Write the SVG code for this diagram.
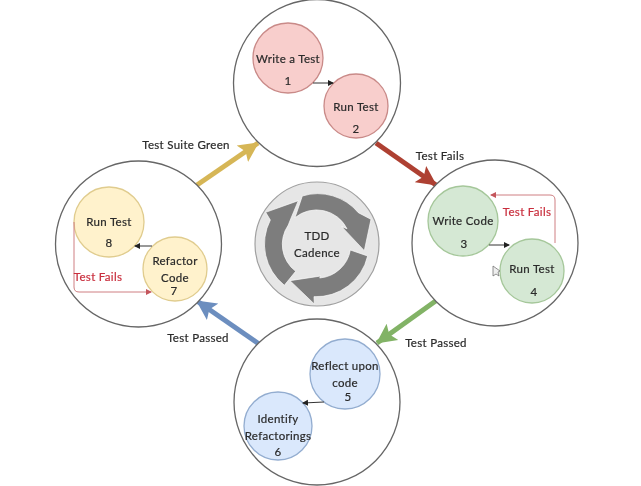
<svg xmlns="http://www.w3.org/2000/svg" width="641" height="486" viewBox="0 0 641 486">
<style>
text{font-family:"Lato","Open Sans",sans-serif;font-size:11.5px;fill:#2a2a2a;stroke:#2a2a2a;stroke-width:.2;text-anchor:middle;letter-spacing:.3px}
.big{fill:#fff;stroke:#666;stroke-width:1.3}
.r{fill:#f8cecc;stroke:#c98a88;stroke-width:1.3}
.g{fill:#d5e8d4;stroke:#a5c79a;stroke-width:1.3}
.b{fill:#dae8fc;stroke:#93add0;stroke-width:1.3}
.y{fill:#fff2cc;stroke:#e0cc8e;stroke-width:1.3}
text.red{fill:#c92f3e;stroke:#c92f3e}
.fat{fill:none;stroke-width:5}
.thin{fill:none;stroke:#333;stroke-width:1}
.loop{fill:none;stroke:#cf7f82;stroke-width:1}
</style>
<defs>
<filter id="soft" x="-2%" y="-2%" width="104%" height="104%"><feGaussianBlur stdDeviation="0.35"/></filter>
<marker id="ah" markerWidth="7" markerHeight="7" refX="5" refY="3" orient="auto" markerUnits="userSpaceOnUse"><path d="M0 0L6 3L0 6Z" fill="#222"/></marker>
<marker id="ahr" markerWidth="7" markerHeight="7" refX="5" refY="3" orient="auto" markerUnits="userSpaceOnUse"><path d="M0 0L6 3L0 6Z" fill="#c4565c"/></marker>
<marker id="hy" markerWidth="22" markerHeight="22" refX="19" refY="11" orient="auto" markerUnits="userSpaceOnUse"><path d="M0 1L20 11L0 21L4 11Z" fill="#d6b656"/></marker>
<marker id="hr" markerWidth="22" markerHeight="22" refX="19" refY="11" orient="auto" markerUnits="userSpaceOnUse"><path d="M0 1L20 11L0 21L4 11Z" fill="#ae4132"/></marker>
<marker id="hg" markerWidth="22" markerHeight="22" refX="19" refY="11" orient="auto" markerUnits="userSpaceOnUse"><path d="M0 1L20 11L0 21L4 11Z" fill="#82b366"/></marker>
<marker id="hb" markerWidth="22" markerHeight="22" refX="19" refY="11" orient="auto" markerUnits="userSpaceOnUse"><path d="M0 1L20 11L0 21L4 11Z" fill="#6c8ebf"/></marker>
</defs>
<rect width="641" height="486" fill="#fff"/>
<g filter="url(#soft)">
<g id="cadence">
<circle cx="317" cy="244" r="62" fill="#e6e6e6" stroke="#a0a0a0" stroke-width="1.2"/>
<g transform="translate(245 180) scale(.3333)" fill="#7d7d7d" stroke="#fff" stroke-width="2">
<path d="M172 48A158 158 0 0 1 340 98L378 118L358 212L290 140L306 146A102 102 0 0 0 150 113Z"/>
<path d="M368 228A158 158 0 0 1 207 350L208 372L135 302L228 288L224 294A102 102 0 0 0 316 210Z"/>
<path d="M118 316A158 158 0 0 1 76 120L62 97L160 62L135 122L130 135A102 102 0 0 0 152 274Z"/>
</g>
<text x="317" y="240">TDD</text>
<text x="317" y="257">Cadence</text>
</g>
<g id="connectors">
<path class="fat" stroke="#d6b656" d="M197 185L258 143" marker-end="url(#hy)"/>
<path class="fat" stroke="#ae4132" d="M376 143L436 185" marker-end="url(#hr)"/>
<path class="fat" stroke="#82b366" d="M437 300L377 343" marker-end="url(#hg)"/>
<path class="fat" stroke="#6c8ebf" d="M259 344L197 301" marker-end="url(#hb)"/>
</g>
<g id="stage-red">
<circle class="big" cx="317" cy="83" r="83.5"/>
<g id="n1"><circle class="r" cx="288" cy="58" r="35"/><text x="288" y="63">Write a Test</text><text x="288" y="85">1</text></g>
<g id="n2"><circle class="r" cx="356" cy="106" r="32"/><text x="356" y="111">Run Test</text><text x="356" y="133">2</text></g>
<path class="thin" d="M313 83H333" marker-end="url(#ah)"/>
</g>
<g id="stage-green">
<circle class="big" cx="495" cy="243" r="83"/>
<g id="n3"><circle class="g" cx="463" cy="221" r="35"/><text x="463" y="225">Write Code</text><text x="464" y="248">3</text></g>
<g id="n4"><circle class="g" cx="532" cy="271" r="32"/><text x="532" y="273">Run Test</text><text x="534" y="296">4</text></g>
<path class="thin" d="M489 245H509" marker-end="url(#ah)"/>
<path class="loop" d="M555 243V200Q555 195 550 195H491" marker-end="url(#ahr)"/>
</g>
<g id="stage-blue">
<circle class="big" cx="317" cy="402" r="83"/>
<g id="n5"><circle class="b" cx="345" cy="374" r="35"/><text x="345" y="370">Reflect upon</text><text x="345" y="387">code</text><text x="348" y="401">5</text></g>
<g id="n6"><circle class="b" cx="278" cy="426" r="34"/><text x="278" y="423">Identify</text><text x="278" y="440">Refactorings</text><text x="278" y="456">6</text></g>
<path class="thin" d="M324 402L303 403" marker-end="url(#ah)"/>
</g>
<g id="stage-yellow">
<circle class="big" cx="138.500" cy="244" r="83"/>
<g id="n8"><circle class="y" cx="109" cy="222" r="35"/><text x="109" y="226">Run Test</text><text x="109" y="247">8</text></g>
<g id="n7"><circle class="y" cx="175" cy="269" r="32"/><text x="175" y="265">Refactor</text><text x="175" y="282">Code</text><text x="174" y="295">7</text></g>
<path class="thin" d="M152 246H135" marker-end="url(#ah)"/>
<path class="loop" d="M74 222V287Q74 292 79 292H151" marker-end="url(#ahr)"/>
</g>
<text x="186" y="149">Test Suite Green</text>
<text x="440" y="160">Test Fails</text>
<text x="436" y="347">Test Passed</text>
<text x="198" y="342">Test Passed</text>
<text class="red" x="527" y="216">Test Fails</text>
<text class="red" x="98" y="281">Test Fails</text>
<path d="M493 266L493 276L496 274L499 276L498 272L500 271Z" fill="#eee" stroke="#666" stroke-width=".7"/>
</g>
</svg>
